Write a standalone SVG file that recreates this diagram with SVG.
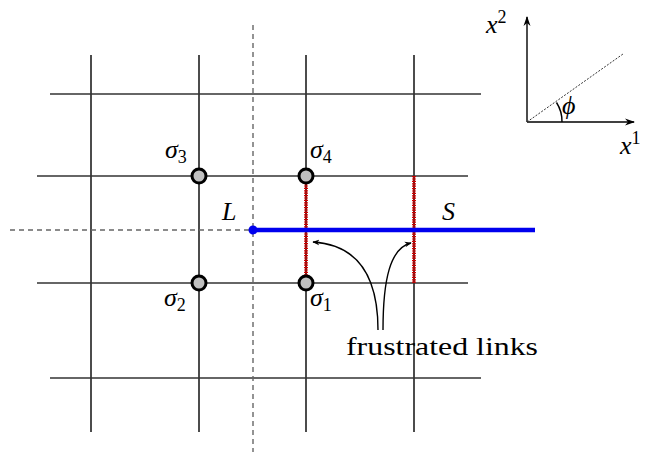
<svg xmlns="http://www.w3.org/2000/svg" width="650" height="454" viewBox="0 0 650 454">
<defs>
<style>
.g{stroke:#111;stroke-width:1.5;fill:none}
.h{stroke:#333;stroke-width:1.5;fill:none}
.d{stroke:#666;stroke-width:1.4;stroke-dasharray:5 4;fill:none}
.fr{stroke:#d00000;stroke-width:4;stroke-dasharray:1.2 1.2;fill:none}
.fr2{stroke:#8b0000;stroke-width:1.2;fill:none}
.site{fill:#c0c0c0;stroke:#000;stroke-width:3}
.t{font-family:"Liberation Serif",serif;font-size:26px;fill:#000}
.i{font-style:italic}
.s{font-size:18px;font-style:normal}
.ax{stroke:#000;stroke-width:1.4;fill:none}
</style>
<marker id="ah" viewBox="0 0 10 10" refX="9" refY="5" markerWidth="7" markerHeight="7" orient="auto" markerUnits="userSpaceOnUse">
<path d="M0,1 L10,5 L0,9 L3,5 z" fill="#000"/>
</marker>
<marker id="ah2" viewBox="0 0 10 10" refX="9" refY="5" markerWidth="10" markerHeight="10" orient="auto" markerUnits="userSpaceOnUse">
<path d="M0,1.5 L10,5 L0,8.5 L3,5 z" fill="#000"/>
</marker>
</defs>
<g id="lattice">
<line class="g" x1="91" y1="55" x2="91" y2="432"/>
<line class="g" x1="199" y1="55" x2="199" y2="432"/>
<line class="g" x1="306" y1="55" x2="306" y2="432"/>
<line class="g" x1="414" y1="55" x2="414" y2="432"/>
<line class="h" x1="50" y1="94" x2="481" y2="94"/>
<line class="h" x1="37" y1="176" x2="468" y2="176"/>
<line class="h" x1="37" y1="283" x2="468" y2="283"/>
<line class="h" x1="50" y1="378" x2="481" y2="378"/>
</g>
<g id="dashed">
<line class="d" x1="253" y1="25" x2="253" y2="452"/>
<line class="d" x1="10" y1="230" x2="253" y2="230"/>
</g>
<g id="frustrated">
<line class="fr2" x1="306" y1="183" x2="306" y2="276"/>
<line class="fr" x1="306" y1="183" x2="306" y2="276"/>
<line class="fr2" x1="414" y1="176" x2="414" y2="283"/>
<line class="fr" x1="414" y1="176" x2="414" y2="283"/>
</g>
<g id="string">
<line x1="253" y1="230" x2="535" y2="230" stroke="#0000ee" stroke-width="4.5"/>
<circle cx="253" cy="230" r="4.5" fill="#0000ee"/>
</g>
<g id="sites">
<circle class="site" cx="199" cy="176" r="7"/>
<circle class="site" cx="306" cy="176" r="7"/>
<circle class="site" cx="199" cy="283" r="7"/>
<circle class="site" cx="306" cy="283" r="7"/>
</g>
<g id="connectors">
<path class="ax" stroke-width="1" d="M378,330 C378,280 360,245 313,242" marker-end="url(#ah)"/>
<path class="ax" stroke-width="1" d="M383,330 C383,280 390,248 411,243" marker-end="url(#ah)"/>
</g>
<g id="labels">
<text class="t i" x="165" y="158">σ<tspan class="s" dy="5">3</tspan></text>
<text class="t i" x="310" y="158">σ<tspan class="s" dy="5">4</tspan></text>
<text class="t i" x="164" y="306">σ<tspan class="s" dy="5">2</tspan></text>
<text class="t i" x="310" y="306">σ<tspan class="s" dy="5">1</tspan></text>
<text class="t i" x="222" y="220">L</text>
<text class="t i" x="442" y="220">S</text>
<text class="t" x="346" y="355" font-size="30" textLength="192" lengthAdjust="spacingAndGlyphs">frustrated links</text>
</g>
<g id="axes">
<line class="ax" x1="527" y1="122" x2="527" y2="17" marker-end="url(#ah2)"/>
<line class="ax" x1="527" y1="122" x2="634" y2="122" marker-end="url(#ah2)"/>
<line x1="527" y1="122" x2="623" y2="54" stroke="#333" stroke-width="1" stroke-dasharray="2 1.5"/>
<path class="ax" d="M562,122 A35,35 0 0 0 556.5,102.5"/>
<text class="t i" x="562" y="114" font-size="24">ϕ</text>
<text class="t i" x="486" y="33">x<tspan class="s" dy="-10">2</tspan></text>
<text class="t i" x="620" y="154">x<tspan class="s" dy="-10">1</tspan></text>
</g>
</svg>
